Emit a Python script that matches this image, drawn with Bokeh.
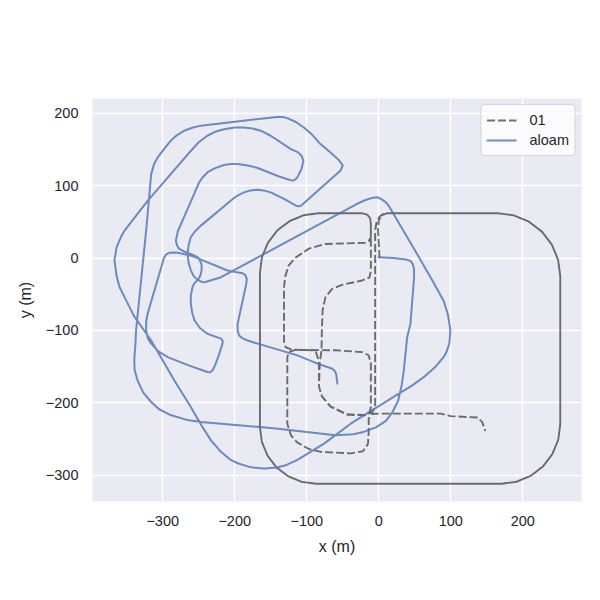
from bokeh.plotting import figure
from bokeh.models import FixedTicker, Legend, LegendItem
from bokeh.embed import file_html
from bokeh.resources import INLINE

# ---------------- data ----------------
gt_x = [1, 0, -1, 0, 4, 12,
        165, 187.5, 208.5, 226.5, 240.3, 249, 252,
        252, 249.2, 241, 228, 211, 191.2, 170,
        -87, -107.2, -126, -142.2, -154.5, -162.3, -165,
        -165, -162.2, -154, -141, -124, -104.2, -83,
        -24, -16, -12, -11,
        -11, -14, -19, -74, -97, -115, -125, -130, -131.5,
        -131.5, -129.5, -121, -88,
        -84, -83, -83, -79, -67, -44, -20,
        -9, -5, -5, -3, 1, 6, 12,
        165, 187.5, 208.5, 226.5, 240.3, 249, 252,
        252, 249.2, 241, 228, 211, 191.2, 170,
        -87, -107.2, -126, -142.2, -154.5, -162.3, -165,
        -165, -162.2, -154, -141, -124, -104.2, -83,
        -24, -16, -12, -11,
        -11, -13, -23, -51, -65, -74, -78, -79, -79.5,
        -82, -83, -78.5, -67, -44, -20, -13,
        -11, -11, -14, -23, -60, -116, -125, -127,
        -127, -122, -113, -97, -80, -39, -22, -15, -14, -14, -10,
        0, 30, 86, 100, 137, 143.5, 148]
gt_y = [0, 20, 40, 52, 59, 62,
        62, 59, 50.3, 36.5, 18.5, -2.5, -25,
        -230, -251.2, -271, -288, -301, -309.2, -312,
        -312, -309.3, -301.5, -289.2, -273, -254.2, -234,
        -20, 1.2, 21, 38, 51, 59.2, 62,
        62, 60, 55, 47,
        29, 23, 21, 19.5, 13, 1, -10, -26, -40,
        -116, -123, -126.5, -127.5,
        -140, -150, -178, -191, -205, -216, -217,
        -213, -205, 38, 50, 57, 61, 62,
        62, 59, 50.3, 36.5, 18.5, -2.5, -25,
        -230, -251.2, -271, -288, -301, -309.2, -312,
        -312, -309.3, -301.5, -289.2, -273, -254.2, -234,
        -20, 1.2, 21, 38, 51, 59.2, 62,
        62, 60, 55, 47,
        -18, -27, -31, -37, -43, -54, -72, -100, -127,
        -146, -178, -192, -205.5, -216.5, -217.5, -214,
        -206, -146, -134.5, -130, -127.5, -127, -130, -137,
        -229, -245, -255, -264, -268, -270, -267, -257, -240, -222, -215.5,
        -215, -215, -215, -218.5, -220.5, -226.5, -239]

aloam_x = [0, 20, 38, 44, 47, 49, 49, 44, 39.5, 34.8, 32, 27, 19, 10, -4, -20, -35, -60,
           -143, -247, -265.5, -289, -305, -316, -327, -335, -339, -339.5, -338, -337, -330, -323,
           -316, -312, -307, -298, -289, -280, -270, -259, -247,
           -141, -133, -127, -115, -104, -92, -81, -67, -55, -50, -53,
           -108, -111, -115, -131.5, -150, -160, -168, -178, -187, -195, -201,
           -247, -255, -261, -264, -265.5, -264, -261, -257, -251.6, -246, -242, -235, -219,
           -30, -20, -10, -2, 4, 10, 14, 53, 75, 90, 96, 99.5, 98, 94, 90, 78, 62, 45, 30,
           -39, -76, -113, -128, -141, -159, -172, -182, -195, -205.5, -220, -233, -247, -261,
           -284, -316, -340, -353, -360, -364, -367, -364, -358, -353,
           -321, -261, -250, -238, -226, -215, -200, -187, -175, -164, -150, -122,
           -112, -107, -104.7, -107, -113, -117, -120, -130, -141, -168, -182, -196, -205,
           -215, -228, -238, -245, -249.4,
           -272.5, -279, -281.7, -280, -277, -270, -261, -253, -249.4, -246, -246, -248,
           -251, -256, -258.6, -261, -261, -259, -256, -248, -238, -226, -219, -216.5,
           -217, -222, -228, -230.8, -234, -238, -265, -293, -306, -316, -321, -323,
           -323, -321, -298, -295, -291, -285, -279, -261, -249.4,
           -210, -195, -189, -185, -183.3, -184, -196, -196, -194, -189, -182, -168,
           -113, -85, -64.5, -61, -59, -57.5]
aloam_y = [1, 0, -2, -4, -8, -15, -27, -91, -109, -155, -175, -197, -213, -225, -234, -240, -243.5, -245,
           -235.5, -226.5, -224, -217, -209, -199, -186, -169, -155, -141, -120, -100, -31, 38,
           116, 130, 139, 151, 162, 170, 176, 180, 183,
           195, 194.8, 193.4, 188, 180.4, 170, 157.5, 146, 135, 128, 121,
           72.4, 71.5, 72.4, 81.7, 90.8, 93.5, 94.5, 93.5, 90.8, 87, 83,
           44.8, 37, 29, 18, 6, -7, -17, -25, -30, -33, -33.4, -31.5, -26.5,
           75, 79.5, 83, 84, 81, 77, 72, 6, -32, -59, -78, -100, -118, -130, -137, -151, -165, -177, -186,
           -229, -256.5, -279, -286, -289.5, -291, -290, -288, -284, -279, -267, -252, -230, -206,
           -169, -114, -80, -54, -40, -25, -3, 15, 29, 38,
           79, 148, 160, 169, 175, 178, 180.5, 180.4, 179, 176, 169, 150.6,
           146, 141, 134.5, 124, 111.4, 108, 107, 110, 113.8, 124.4, 128, 130, 130,
           128.6, 124, 118.3, 111, 104.6,
           51.7, 37, 24, 17, 12.7, 9, 5.8, 2, -1.1, -9, -17, -25,
           -30, -35, -40, -52, -63, -76, -86, -97, -104.6, -109, -111.4, -115,
           -118.3, -134, -150, -155, -158, -157.5, -148, -137, -129, -118.3, -110, -100,
           -88, -77, 1, 5, 7.2, 7.8, 7.2, 3.4, -1.1,
           -17.2, -20, -21, -24, -28.7, -36, -91, -100, -107, -111, -114, -118.3,
           -134.5, -146, -153, -156, -161, -173.5]

x_ticks = [-300, -200, -100, 0, 100, 200]
x_tick_labels = ["\u2212300", "\u2212200", "\u2212100", "0", "100", "200"]
y_ticks = [-300, -200, -100, 0, 100, 200]
y_tick_labels = ["\u2212300", "\u2212200", "\u2212100", "0", "100", "200"]
series_names = ["01", "aloam"]

# ---------------- figure ----------------
TXT = "#262626"
FONT = "Liberation Sans"

p = figure(frame_width=489, frame_height=403,
           x_range=(-397.5, 281.5), y_range=(-336.5, 220.5),
           output_backend="svg", toolbar_location=None,
           min_border_left=92, min_border_right=11,
           min_border_top=98, min_border_bottom=91,
           background_fill_color="#EAEAF2", border_fill_color="white",
           outline_line_color=None)

for ax in (p.xaxis[0], p.yaxis[0]):
    ax.axis_line_color = None
    ax.major_tick_line_color = None
    ax.minor_tick_line_color = None
    ax.major_tick_out = 0
    ax.major_tick_in = 0
    ax.major_label_text_font = FONT
    ax.major_label_text_font_size = "14.5px"
    ax.major_label_text_color = TXT
    ax.axis_label_text_font = FONT
    ax.axis_label_text_font_size = "16px"
    ax.axis_label_text_font_style = "normal"
    ax.axis_label_text_color = TXT
    ax.axis_label_standoff = 9

p.xaxis[0].axis_label = "x (m)"
p.yaxis[0].axis_label = "y (m)"
p.xaxis[0].ticker = FixedTicker(ticks=x_ticks)
p.yaxis[0].ticker = FixedTicker(ticks=y_ticks)
p.xaxis[0].major_label_overrides = {t: s for t, s in zip(x_ticks, x_tick_labels)}
p.yaxis[0].major_label_overrides = {t: s for t, s in zip(y_ticks, y_tick_labels)}
p.xaxis[0].major_label_standoff = 14
p.yaxis[0].major_label_standoff = 14

p.xgrid.ticker = FixedTicker(ticks=x_ticks)
p.ygrid.ticker = FixedTicker(ticks=y_ticks)
p.grid.grid_line_color = "white"
p.grid.grid_line_width = 1.5

r_gt = p.line(gt_x, gt_y, line_color="black", line_alpha=0.55, line_width=1.9,
              line_dash="8 3", line_join="round")
r_al = p.line(aloam_x, aloam_y, line_color="#4C72B0", line_alpha=0.8, line_width=2,
              line_join="round", line_cap="round")

legend = Legend(items=[LegendItem(label=series_names[0], renderers=[r_gt]),
                       LegendItem(label=series_names[1], renderers=[r_al])],
                location="top_right", margin=6, padding=5, spacing=0,
                glyph_width=30, glyph_height=20, label_height=20,
                label_standoff=13, label_text_font=FONT,
                label_text_font_size="14.5px", label_text_color=TXT,
                background_fill_color="white", background_fill_alpha=0.8,
                border_line_color="#CCCCCC", border_line_alpha=0.8, border_line_width=1)
if "border_radius" in Legend.properties():
    legend.border_radius = 4
p.add_layout(legend)

open("out.html", "w").write(file_html(p, INLINE))
